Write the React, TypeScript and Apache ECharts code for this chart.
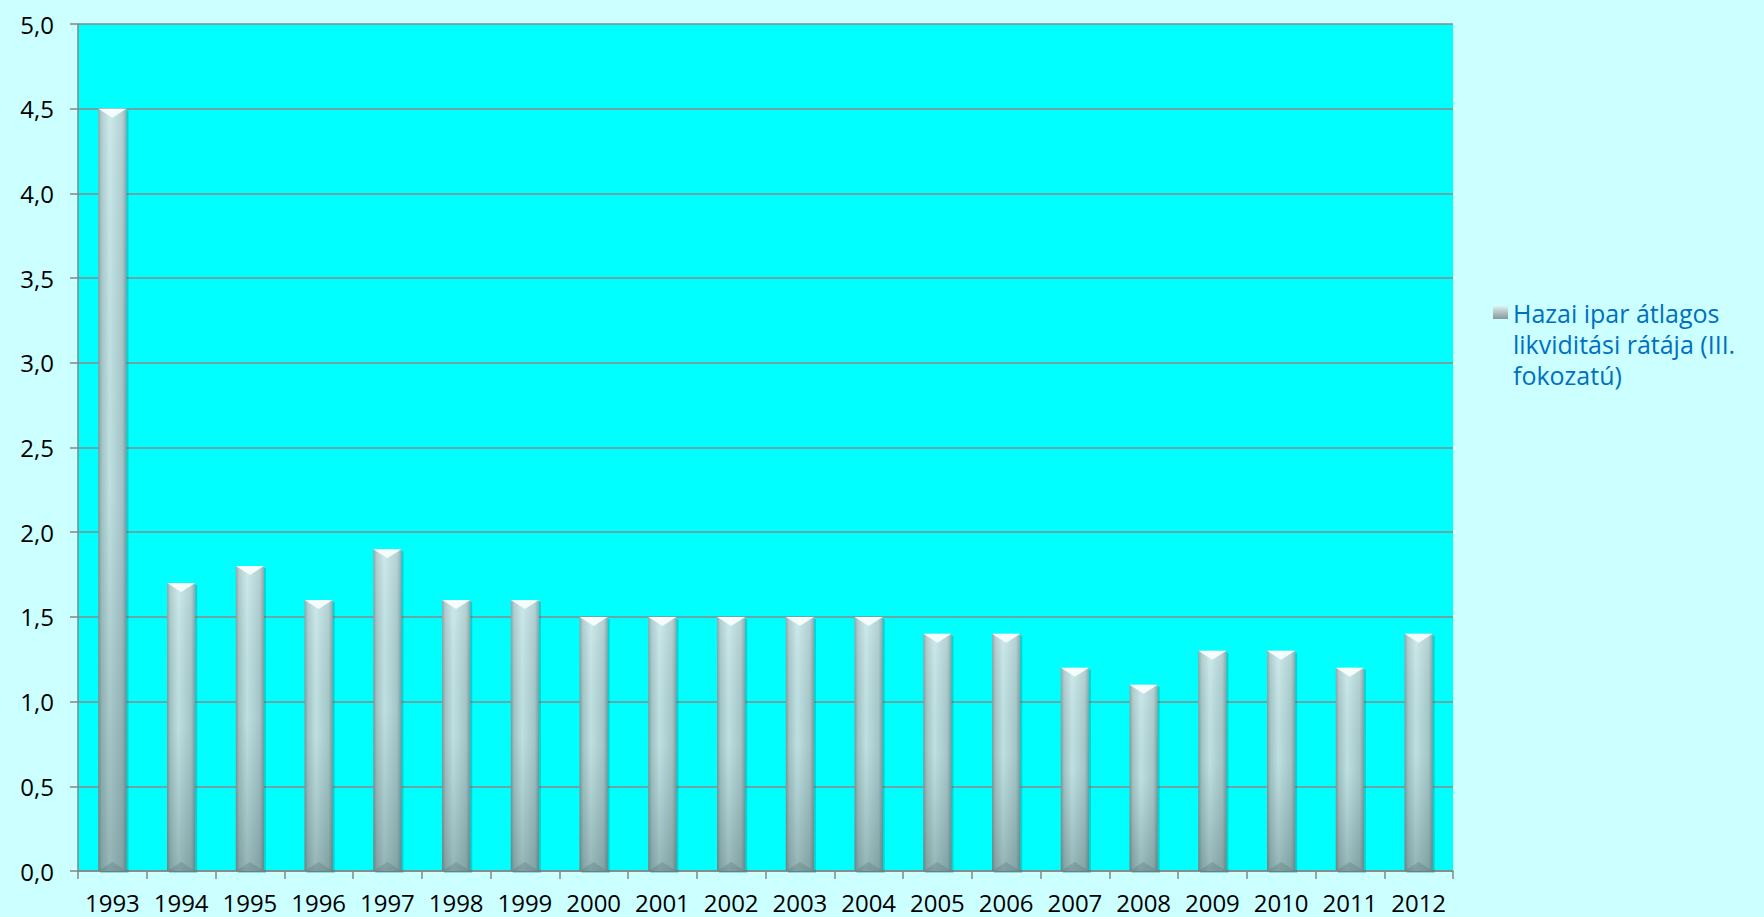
import React, { useEffect, useRef } from "react";
import * as echarts from "echarts";

const years = ["1993","1994","1995","1996","1997","1998","1999","2000","2001","2002","2003","2004","2005","2006","2007","2008","2009","2010","2011","2012"];
const ratio = [4.5, 1.7, 1.8, 1.6, 1.9, 1.6, 1.6, 1.5, 1.5, 1.5, 1.5, 1.5, 1.4, 1.4, 1.2, 1.1, 1.3, 1.3, 1.2, 1.4];
const seriesName = "Hazai ipar átlagos likviditási rátája (III. fokozatú)";
const legendLines = ["Hazai ipar átlagos", "likviditási rátája (III.", "fokozatú)"];

export default function App() {
  const ref = useRef<HTMLDivElement>(null);
  useEffect(() => {
    if (!ref.current) return;
    const chart = echarts.init(ref.current, undefined, { renderer: "svg" });
    const font = "'Open Sans', sans-serif";
    chart.setOption({
      animation: false,
      backgroundColor: "#CCFFFF",
      grid: {
        left: 78, right: 311, top: 24, bottom: 46,
        show: true, backgroundColor: "#00FFFF", borderWidth: 0,
      },
      legend: {
        show: true,
        left: 1488,
        top: 230,
        orient: "vertical",
        itemWidth: 15,
        itemHeight: 13,
        icon: "rect",
        data: [{ name: seriesName, itemStyle: { color: new echarts.graphic.LinearGradient(0, 0, 0, 1, [
          { offset: 0, color: "#e2f0f0" }, { offset: 0.45, color: "#b4c6c7" }, { offset: 1, color: "#869a9b" }]) } }],
        formatter: () => "\n\n" + legendLines.join("\n"),
        textStyle: { color: "#0070C0", fontSize: 25, fontFamily: font, lineHeight: 31 },
      },
      xAxis: {
        type: "category",
        data: years,
        axisLine: { lineStyle: { color: "#868686", width: 1.5 } },
        axisTick: { show: true, interval: 0, length: 8, lineStyle: { color: "#868686", width: 1.5 } },
        axisLabel: { interval: 0, color: "#000", fontSize: 24, fontFamily: font, margin: 19 },
      },
      yAxis: {
        type: "value",
        min: 0, max: 5, interval: 0.5,
        axisLine: { show: true, lineStyle: { color: "#868686", width: 1.5 } },
        axisTick: { show: true, length: 8, lineStyle: { color: "#868686", width: 1.5 } },
        splitLine: { lineStyle: { color: "#8a8a8a", width: 1.5 } },
        axisLabel: {
          color: "#000", fontSize: 24, fontFamily: font, margin: 24,
          formatter: (v: number) => v.toFixed(1).replace(".", ","),
        },
      },
      series: [
        {
          type: "custom",
          name: seriesName,
          data: ratio.map((v, i) => [i, v]),
          encode: { x: 0, y: 1 },
          itemStyle: { color: "#a9c3c4" },
          renderItem: (params: any, api: any) => {
            const idx = api.value(0);
            const val = api.value(1);
            const top = api.coord([idx, val]);
            const base = api.coord([idx, 0]);
            const bw = api.size([1, 0])[0] * 0.41;
            const left = top[0] - bw / 2;
            const h = base[1] - top[1];
            const bev = 9;
            return {
              type: "group",
              children: [
                {
                  type: "rect",
                  shape: { x: left + 2, y: top[1] + 2, width: bw, height: h },
                  style: { fill: "rgba(0,90,100,0.25)" },
                },
                {
                  type: "rect",
                  shape: { x: left, y: top[1], width: bw, height: h },
                  style: {
                    fill: new echarts.graphic.LinearGradient(0, 0, 1, 0, [
                      { offset: 0, color: "#7c9a9c" },
                      { offset: 0.12, color: "#a6c6c8" },
                      { offset: 0.4, color: "#c4e6e7" },
                      { offset: 0.85, color: "#a8cacc" },
                      { offset: 1, color: "#7d9c9e" },
                    ]),
                  },
                },
                {
                  type: "rect",
                  shape: { x: left, y: top[1], width: bw, height: h },
                  style: {
                    fill: new echarts.graphic.LinearGradient(0, 0, 0, 1, [
                      { offset: 0, color: "rgba(255,255,255,0.15)" },
                      { offset: 0.5, color: "rgba(80,110,112,0.05)" },
                      { offset: 1, color: "rgba(60,90,92,0.35)" },
                    ]),
                  },
                },
                {
                  type: "polygon",
                  shape: { points: [[left, top[1]], [left + bw, top[1]], [left + bw / 2, top[1] + bev]] },
                  style: { fill: "rgba(250,255,255,0.9)" },
                },
                {
                  type: "polygon",
                  shape: { points: [[left, base[1]], [left + bw, base[1]], [left + bw / 2, base[1] - bev]] },
                  style: { fill: "rgba(90,120,122,0.35)" },
                },
              ],
            };
          },
        },
      ],
    });
    return () => chart.dispose();
  }, []);
  return <div ref={ref} style={{ position: "fixed", left: 0, top: 0, width: 1764, height: 917 }} />;
}
